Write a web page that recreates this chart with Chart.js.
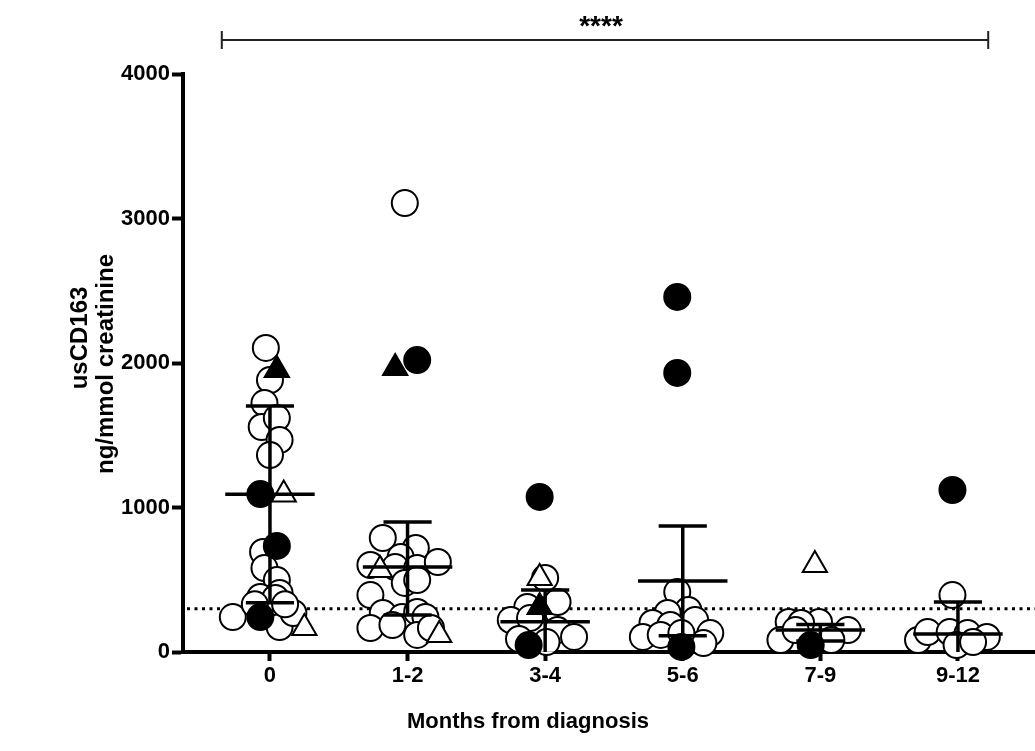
<!DOCTYPE html>
<html>
<head>
<meta charset="utf-8">
<script src="https://cdn.jsdelivr.net/npm/chart.js@4/dist/chart.umd.min.js"></script>
<style>
  body { margin: 0; background: #fff; }
  canvas { display: block; }
</style>
</head>
<body>
<canvas id="chart" width="1035" height="751"></canvas>
<script>
// categories on the x axis (index 0..5), points are [categoryIndex + jitter, value]
const categories = ['0', '1-2', '3-4', '5-6', '7-9', '9-12'];
const yTicks = [0, 1000, 2000, 3000, 4000];

const openCircles = [
    [-0.03, 2104], [0, 1882], [-0.04, 1723], [-0.06, 1557], [0.05, 1619], [0.07, 1467],
    [0, 1363], [-0.05, 692], [-0.04, 581], [0.05, 498], [0.07, 408], [-0.07, 381],
    [0.04, 374], [-0.27, 242], [0.07, 173], [0.17, 270], [-0.11, 330], [0.11, 330],
    [0.98, 3107], [0.82, 789], [1.06, 720], [0.95, 657], [0.73, 602], [0.91, 588],
    [1.07, 581], [1.22, 623], [0.98, 478], [1.07, 498], [0.73, 394], [0.82, 270],
    [0.96, 242], [1.07, 277], [1.13, 242], [0.73, 166], [0.89, 187], [1.07, 118], [1.17, 166],
    [2.0, 512], [1.87, 311], [2.01, 291], [2.09, 346], [1.75, 221], [1.94, 173],
    [2.09, 152], [2.21, 104], [2.01, 69], [1.89, 235], [1.81, 90],
    [2.96, 415], [3.04, 291], [2.89, 270], [2.78, 201], [2.91, 187], [3.09, 221],
    [2.71, 104], [2.84, 118], [3.2, 131], [3.15, 62], [2.99, 131],
    [3.77, 208], [3.99, 208], [3.86, 201], [3.71, 83], [3.82, 152], [4.2, 152], [4.08, 83],
    [4.96, 394], [4.71, 83], [4.78, 138], [4.94, 138], [5.07, 131], [5.21, 104], [4.99, 48], [5.11, 69]
];
const filledCircles = [
    [-0.07, 1093], [0.05, 734], [-0.07, 242],
    [1.07, 2020],
    [1.96, 1073], [1.88, 48],
    [2.96, 2457], [2.96, 1931], [2.99, 35],
    [3.93, 48],
    [4.96, 1121]
];
const openTriangles = [
    [0.1, 1090], [0.25, 166],
    [0.8, 567], [1.23, 118],
    [1.96, 512],
    [3.96, 602]
];
const filledTriangles = [
    [0.05, 1952], [0.91, 1965], [1.96, 311]
];

// mean and error bar ends per category
const meanVals = [1091, 588, 210, 491, 152, 125];
const upperVals = [1702, 900, 429, 872, 191, 346];
const lowerVals = [340, 256, -10, 113, 76, -96];

const threshold = 300;
const bracketSpan = [-0.35, 5.22];
const sigLabel = '****';

const FONT = '"Liberation Sans", Arial, Helvetica, sans-serif';

function toPoints(arr) {
    return arr.map(p => ({ x: p[0], y: p[1] }));
}

const decor = {
    id: 'decor',
    beforeDatasetsDraw(chart) {
        const { ctx, chartArea, scales: { y } } = chart;
        const py = y.getPixelForValue(threshold);
        ctx.save();
        ctx.strokeStyle = '#000';
        ctx.lineWidth = 3;
        ctx.setLineDash([3, 4.5]);
        ctx.beginPath();
        ctx.moveTo(chartArea.left + 4, py);
        ctx.lineTo(chartArea.right, py);
        ctx.stroke();
        ctx.restore();
    },
    afterDatasetsDraw(chart) {
        const { ctx, chartArea, scales: { x, y } } = chart;
        ctx.save();
        ctx.beginPath();
        ctx.rect(chartArea.left, chartArea.top, chartArea.right - chartArea.left, chartArea.bottom - chartArea.top);
        ctx.clip();
        ctx.strokeStyle = '#000';
        ctx.lineWidth = 3.5;
        categories.forEach((c, i) => {
            const cx = x.getPixelForValue(i);
            const half = x.getPixelForValue(i + 0.325) - cx;
            const cap = x.getPixelForValue(i + 0.175) - cx;
            const pm = y.getPixelForValue(meanVals[i]);
            const pu = y.getPixelForValue(upperVals[i]);
            const pl = y.getPixelForValue(lowerVals[i]);
            ctx.beginPath();
            ctx.moveTo(cx, pu); ctx.lineTo(cx, pl);
            ctx.moveTo(cx - half, pm); ctx.lineTo(cx + half, pm);
            ctx.moveTo(cx - cap, pu); ctx.lineTo(cx + cap, pu);
            ctx.moveTo(cx - cap, pl); ctx.lineTo(cx + cap, pl);
            ctx.stroke();
        });
        ctx.restore();
    },
    afterDraw(chart) {
        const { ctx, scales: { x } } = chart;
        ctx.save();
        ctx.fillStyle = '#000';
        // y axis title, two lines
        ctx.font = 'bold 24px ' + FONT;
        ctx.textAlign = 'center';
        ctx.textBaseline = 'middle';
        ctx.save();
        ctx.translate(80, 338);
        ctx.rotate(-Math.PI / 2);
        ctx.fillText('usCD163', 0, 0);
        ctx.restore();
        ctx.save();
        ctx.translate(106, 364);
        ctx.rotate(-Math.PI / 2);
        ctx.fillText('ng/mmol creatinine', 0, 0);
        ctx.restore();
        // x axis title
        ctx.font = 'bold 22px ' + FONT;
        ctx.fillText('Months from diagnosis', 528, 722);
        // significance bracket
        const x1 = x.getPixelForValue(bracketSpan[0]);
        const x2 = x.getPixelForValue(bracketSpan[1]);
        ctx.strokeStyle = '#222';
        ctx.lineWidth = 2;
        ctx.beginPath();
        ctx.moveTo(x1, 40); ctx.lineTo(x2, 40);
        ctx.moveTo(x1, 31); ctx.lineTo(x1, 49);
        ctx.moveTo(x2, 31); ctx.lineTo(x2, 49);
        ctx.stroke();
        ctx.font = 'bold 28px ' + FONT;
        ctx.textBaseline = 'alphabetic';
        ctx.fillText(sigLabel, 601, 35);
        ctx.restore();
    }
};

function markerSet(label, data, style, fill, radius) {
    return {
        label,
        data: toPoints(data),
        pointStyle: style,
        pointRadius: radius,
        pointHoverRadius: radius,
        pointBackgroundColor: fill,
        pointBorderColor: '#000',
        pointBorderWidth: 2,
        showLine: false,
        clip: false
    };
}

new Chart(document.getElementById('chart'), {
    type: 'scatter',
    data: {
        datasets: [
            markerSet('filled circle', filledCircles, 'circle', '#000', 13),
            markerSet('filled triangle', filledTriangles, 'triangle', '#000', 14),
            markerSet('open triangle', openTriangles, 'triangle', '#fff', 14),
            markerSet('open circle', openCircles, 'circle', '#fff', 13)
        ]
    },
    options: {
        responsive: false,
        animation: false,
        devicePixelRatio: 1,
        layout: { autoPadding: false, padding: { top: 74, right: 0, bottom: 0, left: 0 } },
        plugins: { legend: { display: false }, tooltip: { enabled: false } },
        scales: {
            x: {
                type: 'linear',
                min: -0.632,
                max: 5.56,
                z: 1,
                afterBuildTicks: s => { s.ticks = categories.map((c, i) => ({ value: i })); },
                afterFit: s => { s.height = 99; s.paddingLeft = 0; s.paddingRight = 0; },
                ticks: {
                    callback: v => categories[v],
                    color: '#000',
                    padding: 2,
                    font: { family: FONT, size: 22, weight: 'bold' }
                },
                grid: { display: true, drawOnChartArea: false, tickLength: 9, tickWidth: 4, tickColor: '#000' },
                border: { display: true, color: '#000', width: 4 }
            },
            y: {
                min: 0,
                max: 4000,
                z: 1,
                afterBuildTicks: s => { s.ticks = yTicks.map(v => ({ value: v })); },
                afterFit: s => { s.width = 183; },
                ticks: {
                    callback: v => String(v),
                    color: '#000',
                    padding: 2,
                    font: { family: FONT, size: 22, weight: 'bold' }
                },
                grid: { display: true, drawOnChartArea: false, tickLength: 11, tickWidth: 4, tickColor: '#000' },
                border: { display: true, color: '#000', width: 4 }
            }
        }
    },
    plugins: [decor]
});
</script>
</body>
</html>
